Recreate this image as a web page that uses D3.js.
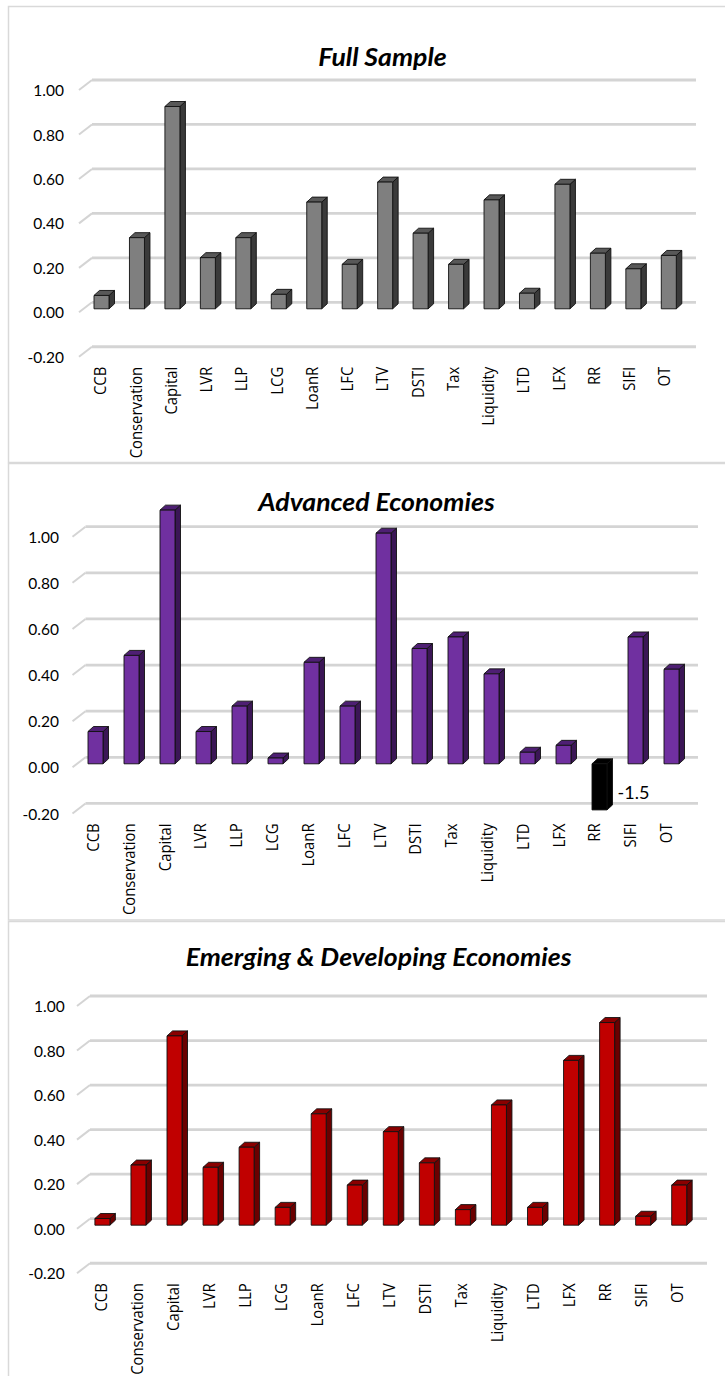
<!DOCTYPE html>
<html>
<head>
<meta charset="utf-8">
<script src="https://cdn.jsdelivr.net/npm/d3@7"></script>
<style>
  body { margin: 0; background: #fff; }
  svg { display: block; }
</style>
</head>
<body>
<svg id="chart" width="725" height="1376"></svg>
<script>
// Macroprudential instruments shown on every panel
const categories = ["CCB", "Conservation", "Capital", "LVR", "LLP", "LCG", "LoanR", "LFC",
                    "LTV", "DSTI", "Tax", "Liquidity", "LTD", "LFX", "RR", "SIFI", "OT"];

// Series values, one per instrument
const fullSample = [0.06, 0.32, 0.91, 0.23, 0.32, 0.065, 0.48, 0.20, 0.57, 0.34, 0.20, 0.49, 0.07, 0.56, 0.25, 0.18, 0.24];
const advanced   = [0.14, 0.47, 1.10, 0.14, 0.25, 0.025, 0.44, 0.25, 1.00, 0.50, 0.55, 0.39, 0.05, 0.08, -1.5, 0.55, 0.41];
const emerging   = [0.03, 0.27, 0.85, 0.26, 0.35, 0.08, 0.50, 0.18, 0.42, 0.28, 0.07, 0.54, 0.08, 0.74, 0.91, 0.04, 0.18];

// Value axis ticks
const yTicks = [-0.2, 0, 0.2, 0.4, 0.6, 0.8, 1.0];

const titles = ["Full Sample", "Advanced Economies", "Emerging & Developing Economies"];

// Layout and colours for each panel
const panels = [
  { title: titles[0], values: fullSample, top: 6.5, bottom: 462.5,
    titleX: 382.5, titleY: 65.5,
    zeroY: 302.3, unit: 222.3, gridX: [92, 696],
    barRange: [101.5, 668.8], labelRange: [100, 664], tickRight: 64,
    colors: { front: "#7f7f7f", side: "#3a3a3a", top: "#585858" } },
  { title: titles[1], values: advanced, top: 463.5, bottom: 920,
    titleX: 376.5, titleY: 510.5,
    zeroY: 757.3, unit: 230.6, gridX: [85.5, 698],
    barRange: [95.5, 671.5], labelRange: [92.5, 665.7], tickRight: 59,
    colors: { front: "#7030a0", side: "#3b1656", top: "#4e1f73" } },
  { title: titles[2], values: emerging, top: 921.5, bottom: 1420,
    titleX: 378.6, titleY: 965.5,
    zeroY: 1218.7, unit: 222.7, gridX: [90, 707],
    barRange: [102.4, 679.2], labelRange: [100.5, 676.5], tickRight: 64.7,
    colors: { front: "#c00000", side: "#6a0000", top: "#8a0000" } }
];

const wallDX = 13, wallDY = 10;     // back wall offset from the front plane
const barShift = 6.5;               // bar plane sits below the back-wall gridlines
const barW = 15, barDX = 5.5, barDY = 5;

const svg = d3.select("#chart");
const yMin = d3.min(yTicks);

panels.forEach(p => {
  const g = svg.append("g");

  // panel frame
  g.append("rect")
    .attr("x", 8.5).attr("y", p.top)
    .attr("width", 760).attr("height", p.bottom - p.top)
    .attr("fill", "none").attr("stroke", "#d9d9d9").attr("stroke-width", 1.5);

  // back-wall scale (gridlines), bar-plane scale, front-plane scale (labels)
  const yGrid = d3.scaleLinear().domain([0, 1]).range([p.zeroY, p.zeroY - p.unit]);
  const yBar = d3.scaleLinear().domain([0, 1]).range([p.zeroY + barShift, p.zeroY + barShift - p.unit]);
  const yFront = d3.scaleLinear().domain([0, 1]).range([p.zeroY + wallDY, p.zeroY + wallDY - p.unit]);

  const step = (p.barRange[1] - p.barRange[0]) / (categories.length - 1);
  const x = d3.scaleBand()
    .domain(categories)
    .range([p.barRange[0] - step / 2, p.barRange[1] + step / 2])
    .paddingInner(1 - barW / step).paddingOuter((1 - barW / step) / 2);
  const xLabel = d3.scalePoint().domain(categories).range(p.labelRange);

  // gridlines on the back wall plus the short wall-edge strokes
  const grid = g.append("g");
  yTicks.forEach(t => {
    grid.append("line")
      .attr("x1", p.gridX[0]).attr("x2", p.gridX[1])
      .attr("y1", yGrid(t)).attr("y2", yGrid(t))
      .attr("stroke", "#d4d4d4").attr("stroke-width", 2.8);
    grid.append("line")
      .attr("x1", p.gridX[0] - wallDX).attr("y1", yGrid(t) + wallDY)
      .attr("x2", p.gridX[0]).attr("y2", yGrid(t))
      .attr("stroke", "#d4d4d4").attr("stroke-width", 2);
  });

  // value axis labels
  const yAxis = g.append("g")
    .attr("transform", `translate(${p.tickRight},0)`)
    .call(d3.axisLeft(yFront).tickValues(yTicks).tickSize(0).tickPadding(0)
      .tickFormat(d => d.toFixed(2)));
  yAxis.select(".domain").remove();
  yAxis.selectAll("text")
    .attr("dy", "0.36em")
    .style("font-family", "Lato, sans-serif").style("font-size", "15.5px").attr("fill", "#000");

  // category labels, rotated
  const labelTop = yGrid(yMin) + 20;
  const xAxis = g.append("g")
    .attr("transform", `translate(0,${labelTop})`)
    .call(d3.axisBottom(xLabel).tickSize(0));
  xAxis.select(".domain").remove();
  xAxis.selectAll("text")
    .attr("x", 0).attr("y", 0).attr("dy", "0.36em")
    .attr("transform", "rotate(-90) scale(0.9,1)")
    .style("text-anchor", "end")
    .style("font-family", "'Open Sans', sans-serif").style("font-size", "16.5px").attr("fill", "#000");

  // 3-D columns
  const bars = g.append("g");
  p.values.forEach((v, i) => {
    const clipped = v < yMin;
    const shown = Math.max(v, yMin);
    const x0 = x(categories[i]), x1 = x0 + x.bandwidth();
    const yTop = yBar(Math.max(shown, 0)), yBot = yBar(Math.min(shown, 0));
    const c = clipped ? { front: "#000", side: "#000", top: "#000" } : p.colors;
    const b = bars.append("g")
      .attr("stroke", "#111").attr("stroke-width", 0.9).attr("stroke-linejoin", "round");
    b.append("path")
      .attr("d", `M${x1},${yTop}L${x1 + barDX},${yTop - barDY}L${x1 + barDX},${yBot - barDY}L${x1},${yBot}Z`)
      .attr("fill", c.side);
    b.append("path")
      .attr("d", `M${x0},${yTop}L${x0 + barDX},${yTop - barDY}L${x1 + barDX},${yTop - barDY}L${x1},${yTop}Z`)
      .attr("fill", c.top);
    b.append("rect")
      .attr("x", x0).attr("y", yTop).attr("width", x1 - x0).attr("height", yBot - yTop)
      .attr("fill", c.front);
    if (clipped) {
      g.append("text")
        .attr("x", x1 + barDX + 5).attr("y", yBar(yMin) - 11)
        .style("font-family", "Lato, sans-serif").style("font-size", "18px").attr("fill", "#000")
        .text(String(v));
    }
  });

  // panel title
  g.append("text")
    .attr("transform", `translate(${p.titleX},${p.titleY}) scale(1.11,1)`)
    .attr("text-anchor", "middle")
    .style("font-family", "Lato, sans-serif").style("font-weight", "bold").style("font-style", "italic")
    .style("font-size", "24px").attr("fill", "#000")
    .text(p.title);
});
</script>
</body>
</html>
